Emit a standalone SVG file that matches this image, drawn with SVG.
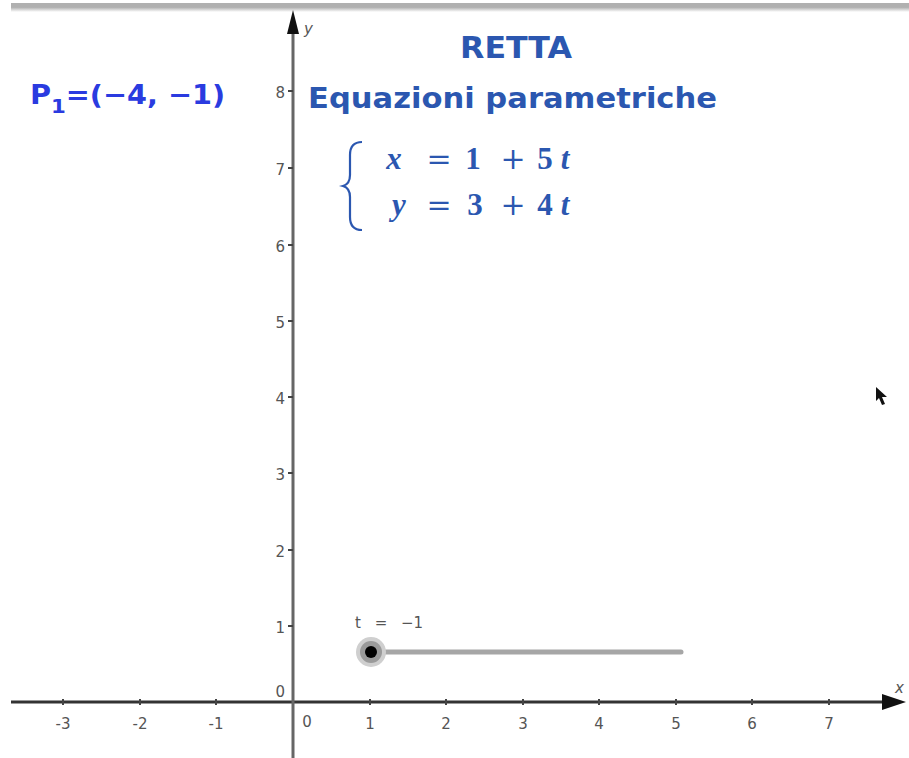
<svg xmlns="http://www.w3.org/2000/svg" width="909" height="758" viewBox="0 0 909 758">
<defs>
<style>
.tick{stroke:#444;stroke-width:2}
.num{font-family:"DejaVu Sans",sans-serif;font-size:15px;fill:#555}
.title{font-family:"DejaVu Sans",sans-serif;font-weight:bold;fill:#2b57b0}
.math{font-family:"Liberation Serif",serif;font-weight:bold;font-size:31px;fill:#2b57b0;text-anchor:middle}
.mi{font-style:italic}
.op{font-family:"DejaVu Serif",serif;font-weight:normal;font-size:30px}
</style>
<linearGradient id="topg" x1="0" y1="0" x2="0" y2="1">
<stop offset="0" stop-color="#aaa"/><stop offset="1" stop-color="#fff"/>
</linearGradient>
</defs>
<rect width="909" height="758" fill="#fff"/>
<rect x="11" y="3" width="898" height="4" fill="#b0b0b0"/>
<rect x="11" y="7" width="898" height="5" fill="url(#topg)"/>
<g id="axes">
<line x1="11" y1="702" x2="884" y2="702" stroke="#333" stroke-width="3"/>
<polygon points="906,702 882,694 882,710" fill="#111"/>
<line x1="293" y1="758" x2="293" y2="30" stroke="#666" stroke-width="3"/>
<polygon points="293,10 287,34 299,34" fill="#111"/>
<text x="304" y="34" class="num" font-style="italic">y</text>
<text x="895" y="693" class="num" font-style="italic">x</text>
</g>
<g id="ticks">
<line class="tick" x1="63" y1="699" x2="63" y2="705"/>
<line class="tick" x1="140" y1="699" x2="140" y2="705"/>
<line class="tick" x1="216" y1="699" x2="216" y2="705"/>
<line class="tick" x1="370" y1="699" x2="370" y2="705"/>
<line class="tick" x1="446" y1="699" x2="446" y2="705"/>
<line class="tick" x1="523" y1="699" x2="523" y2="705"/>
<line class="tick" x1="599" y1="699" x2="599" y2="705"/>
<line class="tick" x1="676" y1="699" x2="676" y2="705"/>
<line class="tick" x1="752" y1="699" x2="752" y2="705"/>
<line class="tick" x1="829" y1="699" x2="829" y2="705"/>
<line class="tick" x1="288" y1="626" x2="293" y2="626"/>
<line class="tick" x1="288" y1="550" x2="293" y2="550"/>
<line class="tick" x1="288" y1="473" x2="293" y2="473"/>
<line class="tick" x1="288" y1="397" x2="293" y2="397"/>
<line class="tick" x1="288" y1="321" x2="293" y2="321"/>
<line class="tick" x1="288" y1="245" x2="293" y2="245"/>
<line class="tick" x1="288" y1="168" x2="293" y2="168"/>
<line class="tick" x1="288" y1="91" x2="293" y2="91"/>
</g>
<g id="xlabels" class="num" text-anchor="middle">
<text x="63" y="729">-3</text>
<text x="140" y="729">-2</text>
<text x="216" y="729">-1</text>
<text x="307" y="727">0</text>
<text x="370" y="729">1</text>
<text x="446" y="729">2</text>
<text x="523" y="729">3</text>
<text x="599" y="729">4</text>
<text x="676" y="729">5</text>
<text x="752" y="729">6</text>
<text x="829" y="729">7</text>
</g>
<g id="ylabels" class="num" text-anchor="end">
<text x="285" y="697">0</text>
<text x="285" y="633">1</text>
<text x="285" y="557">2</text>
<text x="285" y="480">3</text>
<text x="285" y="404">4</text>
<text x="285" y="328">5</text>
<text x="285" y="252">6</text>
<text x="285" y="175">7</text>
<text x="285" y="98">8</text>
</g>
<g id="point">
<text x="30" y="104" font-family="DejaVu Sans,sans-serif" font-weight="bold" font-size="27" fill="#2a3be0" textLength="195" lengthAdjust="spacingAndGlyphs">P<tspan font-size="20" dy="9">1</tspan><tspan dy="-9">=(−4, −1)</tspan></text>
</g>
<g id="title">
<text x="460" y="58" class="title" font-size="30" textLength="112" lengthAdjust="spacingAndGlyphs">RETTA</text>
<text x="308" y="108" class="title" font-size="28" textLength="409" lengthAdjust="spacingAndGlyphs">Equazioni parametriche</text>
</g>
<g id="equations">
<path d="M362,142 Q350,142 350,155 L350,175 Q350,184 343,186 Q350,188 350,197 L350,217 Q350,230 362,230" fill="none" stroke="#2b57b0" stroke-width="2.2"/>
<text y="169" class="math"><tspan x="394" class="mi">x</tspan><tspan x="439" class="op">=</tspan><tspan x="473">1</tspan><tspan x="513" class="op">+</tspan><tspan x="545">5</tspan><tspan x="565" class="mi">t</tspan></text>
<text y="215" class="math"><tspan x="399" class="mi">y</tspan><tspan x="439" class="op">=</tspan><tspan x="475">3</tspan><tspan x="513" class="op">+</tspan><tspan x="545">4</tspan><tspan x="565" class="mi">t</tspan></text>
</g>
<g id="slider">
<line x1="370" y1="652" x2="681" y2="652" stroke="#a6a6a6" stroke-width="5" stroke-linecap="round"/>
<circle cx="371" cy="652" r="15" fill="#cfcfcf"/>
<circle cx="371" cy="652" r="11" fill="#9a9a9a"/>
<circle cx="371" cy="652" r="6" fill="#000"/>
<text y="628" class="num" font-size="17" text-anchor="middle"><tspan x="358">t</tspan><tspan x="381">=</tspan><tspan x="412">−1</tspan></text>
</g>
<g id="cursor">
<polygon points="876,387 876,401 879,398 882,405 885,404 882,397 887,397" fill="#111"/>
</g>
</svg>
